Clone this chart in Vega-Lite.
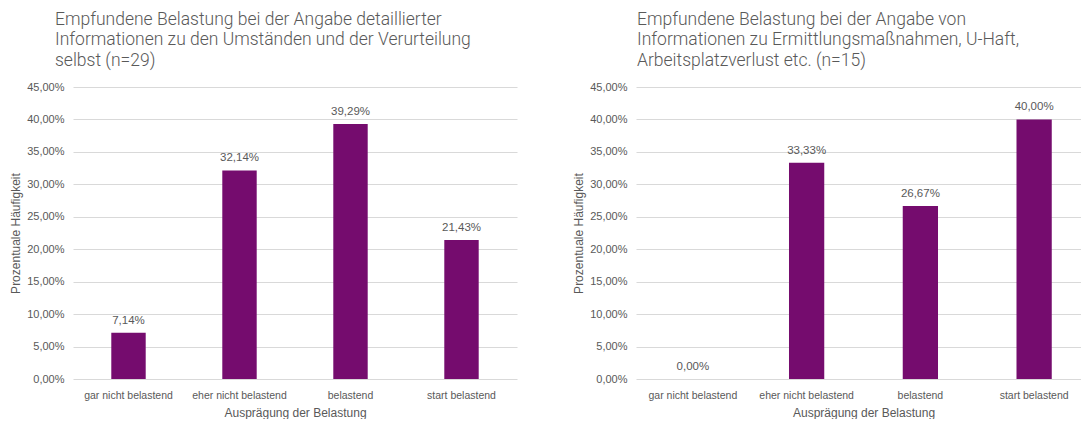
{
  "$schema": "https://vega.github.io/schema/vega-lite/v6.json",
  "autosize": {"type": "pad"},
  "padding": {"left": 9, "top": 10, "right": 0, "bottom": 0},
  "background": "white",
  "spacing": 119,
  "bounds": "flush",
  "config": {
    "locale": {"number": {"decimal": ",", "thousands": ".", "grouping": [3], "currency": ["", " €"]}},
    "view": {"stroke": null},
    "font": "Liberation Sans",
    "title": {"font": "Roboto", "fontSize": 17.5, "fontWeight": 300, "color": "#595959", "anchor": "start", "frame": "group", "lineHeight": 20.5, "offset": 12},
    "axis": {"labelFont": "Liberation Sans", "labelFontSize": 10.5, "labelColor": "#595959", "titleFont": "Liberation Sans", "titleFontSize": 12, "titleFontWeight": "normal", "titleColor": "#595959", "ticks": false, "gridColor": "#D9D9D9", "domainColor": "#D9D9D9"}
  },
  "datasets": {
    "a": [
      {"kategorie": "gar nicht belastend", "anteil": 0.0714, "label": "7,14%"},
      {"kategorie": "eher nicht belastend", "anteil": 0.3214, "label": "32,14%"},
      {"kategorie": "belastend", "anteil": 0.3929, "label": "39,29%"},
      {"kategorie": "start belastend", "anteil": 0.2143, "label": "21,43%"}
    ],
    "b": [
      {"kategorie": "gar nicht belastend", "anteil": 0.0, "label": "0,00%"},
      {"kategorie": "eher nicht belastend", "anteil": 0.3333, "label": "33,33%"},
      {"kategorie": "belastend", "anteil": 0.2667, "label": "26,67%"},
      {"kategorie": "start belastend", "anteil": 0.4, "label": "40,00%"}
    ]
  },
  "hconcat": [
    {
      "width": 444,
      "height": 292,
      "data": {"name": "a"},
      "title": {"text": ["Empfundene Belastung bei der Angabe detaillierter", "Informationen zu den Umständen und der Verurteilung", "selbst (n=29)"], "dx": -18},
      "encoding": {
        "x": {"field": "kategorie", "type": "nominal", "sort": null, "scale": {"paddingInner": 0.69, "paddingOuter": 0.345}, "axis": {"labelAngle": 0, "title": "Ausprägung  der Belastung", "labelPadding": 11, "titlePadding": 7, "domain": false}},
        "y": {"field": "anteil", "type": "quantitative", "scale": {"domain": [0, 0.45]}, "axis": {"values": [0, 0.05, 0.1, 0.15, 0.2, 0.25, 0.3, 0.35, 0.4, 0.45], "format": ".2%", "title": "Prozentuale Häufigkeit", "labelFontSize": 11, "labelPadding": 9, "titlePadding": 4, "domain": false}}
      },
      "layer": [
        {"mark": {"type": "bar", "color": "#750C6E"}},
        {"mark": {"type": "text", "dy": -9, "baseline": "alphabetic", "fontSize": 11.5, "color": "#595959", "font": "Liberation Sans"}, "encoding": {"text": {"field": "label"}}}
      ]
    },
    {
      "width": 455,
      "height": 292,
      "data": {"name": "b"},
      "title": {"text": ["Empfundene Belastung bei der Angabe von", "Informationen zu Ermittlungsmaßnahmen, U-Haft,", "Arbeitsplatzverlust etc. (n=15)"], "dx": 1},
      "encoding": {
        "x": {"field": "kategorie", "type": "nominal", "sort": null, "scale": {"paddingInner": 0.69, "paddingOuter": 0.345}, "axis": {"labelAngle": 0, "title": "Ausprägung  der Belastung", "labelPadding": 11, "titlePadding": 7, "domain": false}},
        "y": {"field": "anteil", "type": "quantitative", "scale": {"domain": [0, 0.45]}, "axis": {"values": [0, 0.05, 0.1, 0.15, 0.2, 0.25, 0.3, 0.35, 0.4, 0.45], "format": ".2%", "title": "Prozentuale Häufigkeit", "labelFontSize": 11, "labelPadding": 9, "titlePadding": 4, "domain": false}}
      },
      "layer": [
        {"mark": {"type": "bar", "color": "#750C6E"}},
        {"mark": {"type": "text", "dy": -9, "baseline": "alphabetic", "fontSize": 11.5, "color": "#595959", "font": "Liberation Sans"}, "encoding": {"text": {"field": "label"}}}
      ]
    }
  ]
}
